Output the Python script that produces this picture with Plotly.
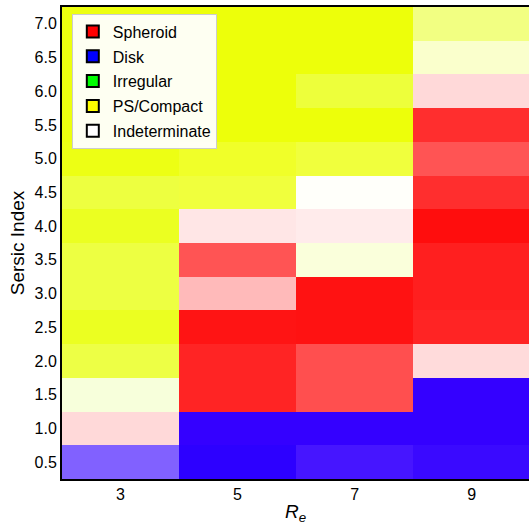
import numpy as np
import plotly.graph_objects as go

# Data: effective radius (columns) and Sersic index (rows)
re_vals = [3, 5, 7, 9]
n_vals = [0.5, 1.0, 1.5, 2.0, 2.5, 3.0, 3.5, 4.0, 4.5, 5.0, 5.5, 6.0, 6.5, 7.0]

classes = ["Spheroid", "Disk", "Irregular", "PS/Compact", "Indeterminate"]
class_rgb = {
    "Spheroid": (1, 0, 0),
    "Disk": (0, 0, 1),
    "Irregular": (0, 1, 0),
    "PS/Compact": (1, 1, 0),
    "Indeterminate": (1, 1, 1),
}
legend_colors = ["#ff0000", "#0000ff", "#00ff00", "#ffff00", "#ffffff"]

# Classification fractions (%) per cell, rows = n_vals (0.5 -> 7.0), columns = re_vals
spheroid = [
    [11, 15, 16, 16],
    [15, 17, 17, 17],
    [0, 86, 69, 17],
    [0, 86, 69, 14],
    [0, 92, 93, 86],
    [0, 27, 93, 88],
    [0, 67, 0, 88],
    [0, 10, 8, 95],
    [0, 0, 0, 82],
    [0, 0, 0, 67],
    [0, 0, 0, 82],
    [0, 0, 0, 15],
    [0, 0, 0, 0],
    [0, 0, 0, 0],
]
disk = [
    [55, 85, 77, 81],
    [0, 83, 83, 83],
    [0, 0, 0, 83],
    [0, 0, 0, 0],
    [0, 0, 0, 0],
    [0, 0, 0, 0],
    [0, 0, 0, 0],
    [0, 0, 0, 0],
    [0, 0, 0, 0],
    [0, 0, 0, 0],
    [0, 0, 0, 0],
    [0, 0, 0, 0],
    [0, 0, 0, 0],
    [0, 0, 0, 0],
]
irregular = [
    [0, 0, 0, 0],
    [0, 0, 0, 0],
    [3, 0, 0, 0],
    [7, 0, 0, 0],
    [8, 0, 0, 0],
    [7, 0, 0, 0],
    [7, 0, 2, 0],
    [8, 0, 0, 0],
    [7, 6, 0, 0],
    [7, 6, 6, 0],
    [7, 7, 7, 0],
    [7, 7, 7, 0],
    [7, 7, 7, 2],
    [7, 7, 7, 5],
]
ps_compact = [
    [0, 0, 0, 0],
    [0, 0, 0, 0],
    [11, 0, 0, 0],
    [66, 0, 0, 0],
    [79, 0, 0, 0],
    [67, 0, 0, 0],
    [67, 0, 12, 0],
    [79, 0, 0, 0],
    [68, 70, 2, 0],
    [85, 78, 70, 0],
    [87, 89, 89, 0],
    [87, 89, 70, 0],
    [87, 89, 89, 18],
    [87, 89, 89, 44],
]
indeterminate = [
    [34, 0, 7, 3],
    [85, 0, 0, 0],
    [86, 14, 31, 0],
    [27, 14, 31, 86],
    [13, 8, 7, 14],
    [26, 73, 7, 12],
    [26, 33, 86, 12],
    [13, 90, 92, 5],
    [25, 24, 98, 18],
    [8, 16, 24, 33],
    [6, 4, 4, 18],
    [6, 4, 23, 85],
    [6, 4, 4, 80],
    [6, 4, 4, 51],
]

fractions = {
    "Spheroid": np.array(spheroid, float),
    "Disk": np.array(disk, float),
    "Irregular": np.array(irregular, float),
    "PS/Compact": np.array(ps_compact, float),
    "Indeterminate": np.array(indeterminate, float),
}

# Mix class colours by fraction, normalise brightest channel to full intensity
rgb = np.zeros((len(n_vals), len(re_vals), 3))
for c in classes:
    rgb += fractions[c][:, :, None] * np.array(class_rgb[c])[None, None, :]
mx = rgb.max(axis=2, keepdims=True)
mx[mx == 0] = 1
img = np.round(rgb / mx * 255).astype(np.uint8)

fig = go.Figure()
fig.add_trace(go.Image(
    z=img,
    x0=re_vals[0], dx=re_vals[1] - re_vals[0],
    y0=n_vals[0], dy=n_vals[1] - n_vals[0],
    hoverinfo="skip",
))

for i, (name, col) in enumerate(zip(classes, legend_colors)):
    fig.add_trace(go.Scatter(
        x=[None], y=[None], mode="markers", name=name,
        legendgroup=name,
        marker=dict(symbol="square", size=11, color=col,
                    line=dict(color="black", width=1.5)),
    ))

font = "Liberation Sans, Arial, Helvetica, sans-serif"
fig.update_layout(
    width=529, height=525,
    margin=dict(l=62, r=0, t=7, b=46),
    paper_bgcolor="white", plot_bgcolor="white",
    font=dict(family=font, size=16, color="black"),
    showlegend=True,
    legend=dict(
        x=0.021, y=0.986, xanchor="left", yanchor="top",
        bgcolor="rgba(255,255,255,0.95)",
        bordercolor="#cccccc", borderwidth=1,
        font=dict(size=16, color="black"),
        tracegroupgap=1,
        itemsizing="constant",
    ),
)
fig.update_xaxes(
    range=[2, 9.98], autorange=False, constrain="range",
    tickvals=re_vals, ticktext=[str(v) for v in re_vals],
    showgrid=False, zeroline=False,
    showline=True, linecolor="black", linewidth=2, mirror=True,
    ticks="outside", ticklen=0, tickcolor="rgba(0,0,0,0)",
    title=dict(text="<i>R<sub>e</sub></i>", standoff=7),
)
fig.update_yaxes(
    range=[0.25, 7.25], autorange=False, scaleanchor=False, constrain="range",
    tickvals=n_vals, ticktext=[f"{v:.1f}" for v in n_vals],
    showgrid=False, zeroline=False,
    showline=True, linecolor="black", linewidth=2, mirror=False,
    ticks="outside", ticklen=0, tickcolor="rgba(0,0,0,0)",
    title=dict(text="Sersic Index", standoff=5),
)

fig.write_html("out.html")
